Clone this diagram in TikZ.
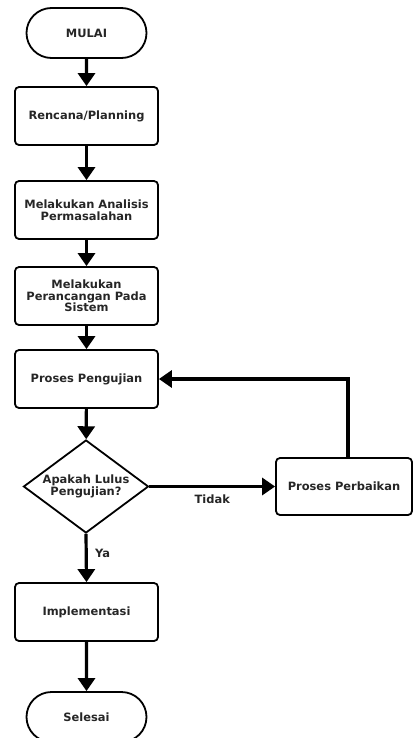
\documentclass[tikz,border=0pt]{standalone}
\usepackage{fontspec}
\setmainfont{DejaVu Sans}
\usetikzlibrary{arrows.meta,shapes.misc,shapes.geometric}
\begin{document}
\begin{tikzpicture}[x=1bp,y=-1bp,
  txt/.style={font=\bfseries\fontsize{11.5}{11.6}\selectfont, text=black!85},
  box/.style={txt, draw, line width=1.8bp, rounded corners=4bp, minimum width=143bp, minimum height=58bp, align=center, inner sep=0pt},
  term/.style={txt, draw, line width=1.8bp, rounded rectangle, minimum width=120bp, minimum height=50bp, inner sep=0pt},
  dec/.style={txt, draw, diamond, line width=1.8bp, minimum width=125bp, minimum height=93bp, aspect=1.35, align=center, inner sep=0pt},
  arr/.style={line width=3.2bp, -{Triangle[width=17bp,length=13bp]}},
  lbl/.style={txt}]
\useasboundingbox (0,0) rectangle (412,738);
\node[term] (mulai) at (86.5,33) {MULAI};
\node[box] (plan) at (86.5,116) {Rencana/Planning};
\node[box] (anal) at (86.5,210) {Melakukan Analisis\\Permasalahan};
\node[box] (ranc) at (86.5,296) {Melakukan\\Perancangan Pada\\Sistem};
\node[box] (uji) at (86.5,379) {Proses Pengujian};
\node[dec] (lulus) at (86,486.5) {Apakah Lulus\\Pengujian?};
\node[box, minimum width=136bp, minimum height=57bp] (baik) at (344,486.5) {Proses Perbaikan};
\node[box] (impl) at (86.5,612) {Implementasi};
\node[term] (sel) at (86.5,717) {Selesai};
\draw[arr] (mulai) -- (plan);
\draw[arr] (plan) -- (anal);
\draw[arr] (anal) -- (ranc);
\draw[arr] (ranc) -- (uji);
\draw[arr] (uji) -- (lulus);
\draw[arr] (lulus.east) -- node[lbl, below=3bp] (tidak) {Tidak} (baik.west);
\draw[arr] ([xshift=4bp]baik.north) |- (uji.east);
\draw[arr] (lulus.south) -- node[lbl, right=4bp, pos=0.4] (ya) {Ya} (impl.north);
\draw[arr] (impl) -- (sel);
\end{tikzpicture}
\end{document}
